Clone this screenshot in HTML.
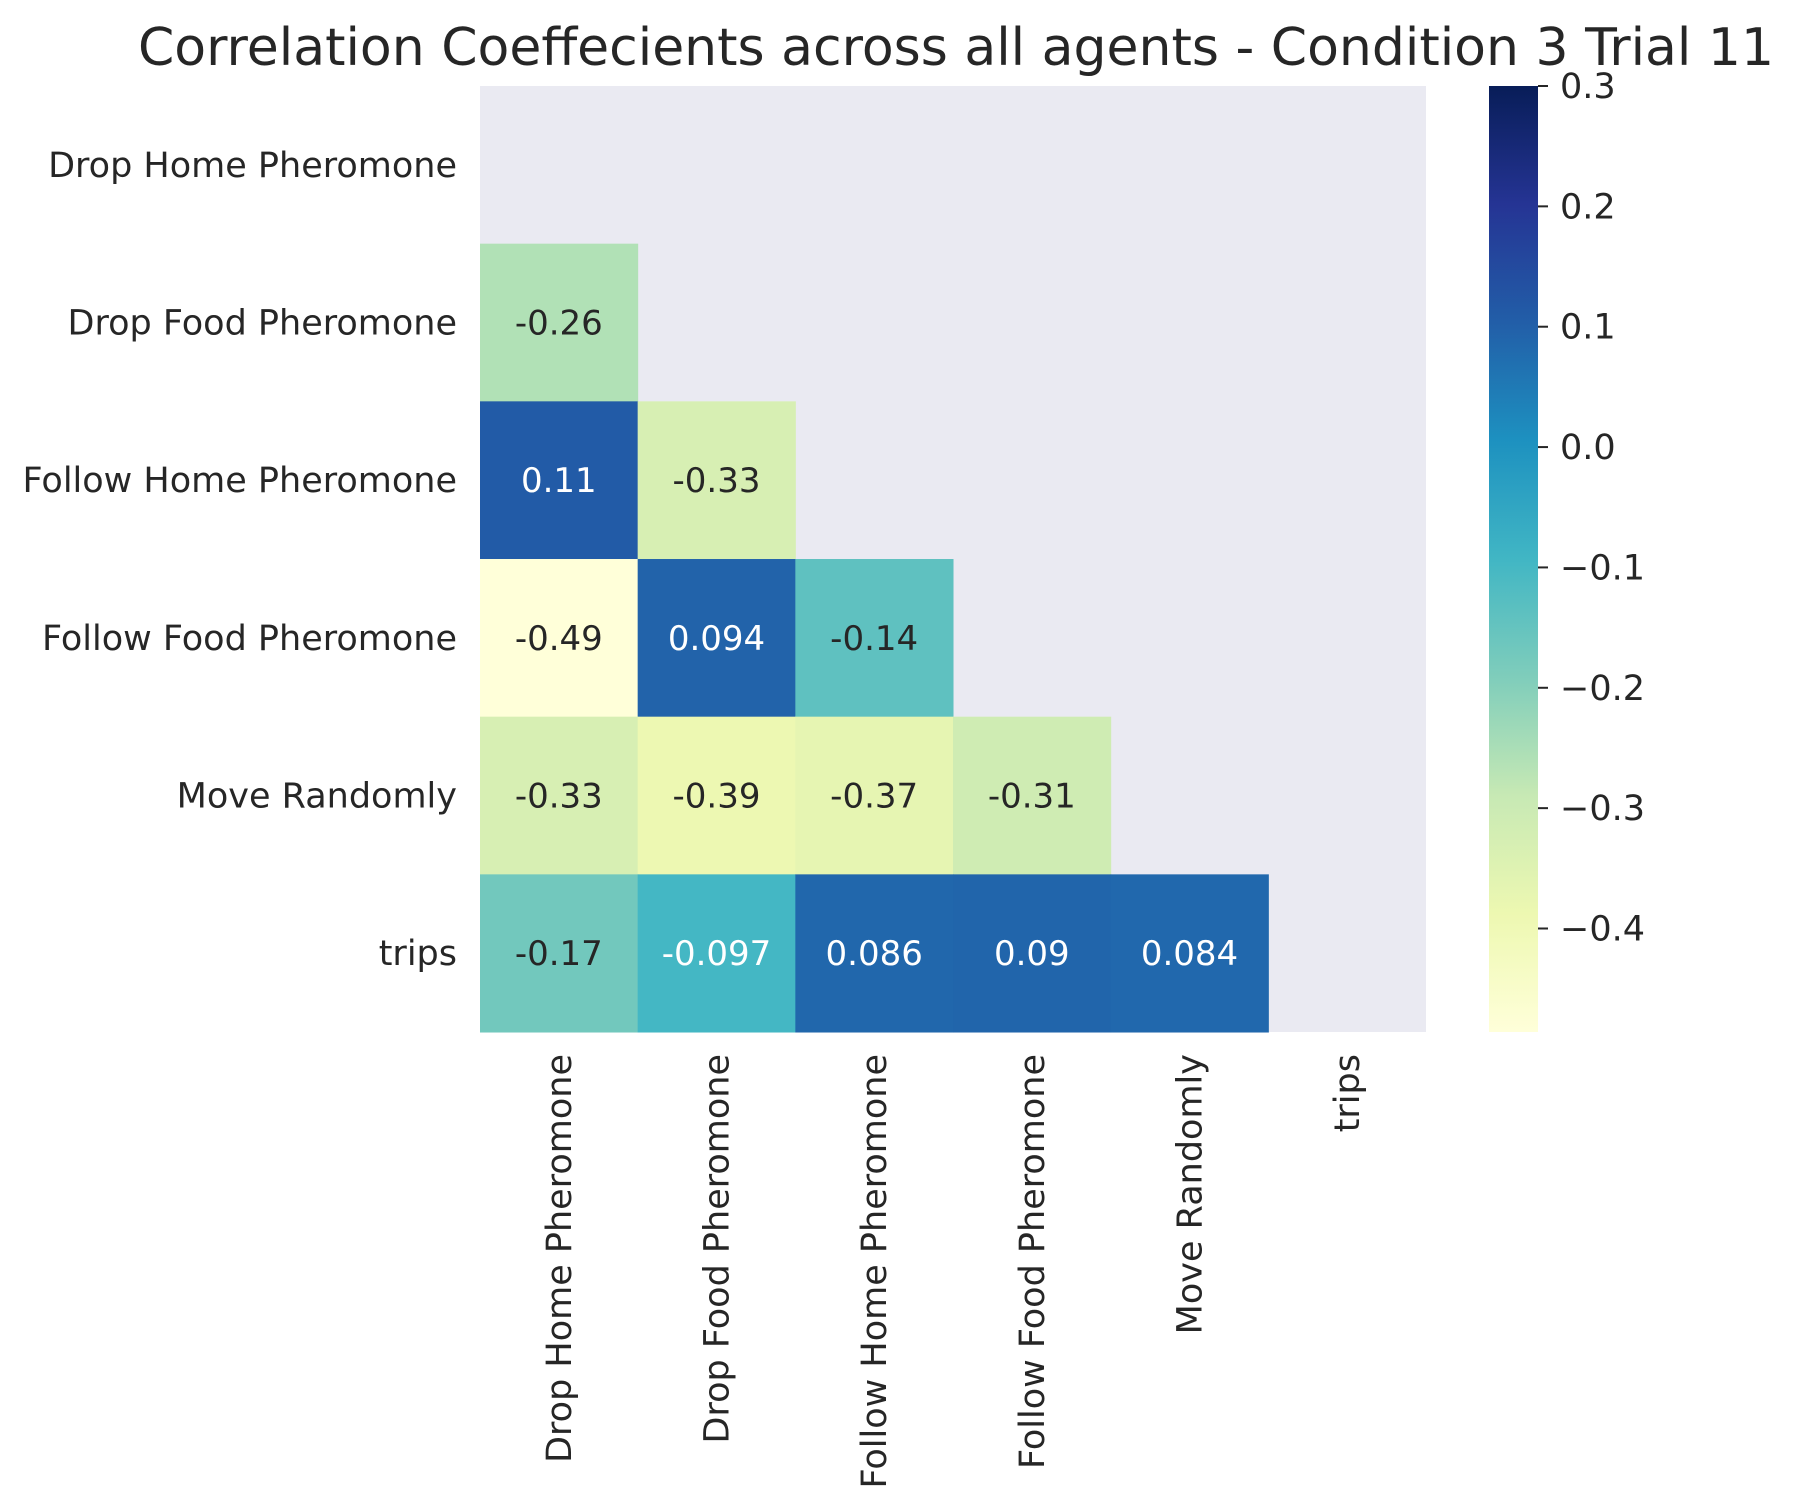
<!DOCTYPE html>
<html><head><meta charset="utf-8"><style>
html,body{margin:0;padding:0;background:#fff;}
svg{display:block;font-family:"DejaVu Sans","Liberation Sans",sans-serif;}
</style></head><body>
<svg id="chart" width="1795" height="1508" viewBox="0 0 1795 1508" xmlns="http://www.w3.org/2000/svg">
<defs>
<linearGradient id="cbgrad" x1="0" y1="1" x2="0" y2="0">
<stop offset="0" stop-color="#ffffd9"/><stop offset="0.125" stop-color="#edf8b1"/><stop offset="0.25" stop-color="#c7e9b4"/><stop offset="0.375" stop-color="#7fcdbb"/><stop offset="0.5" stop-color="#41b6c4"/><stop offset="0.625" stop-color="#1d91c0"/><stop offset="0.75" stop-color="#225ea8"/><stop offset="0.875" stop-color="#253494"/><stop offset="1" stop-color="#081d58"/>
</linearGradient>
</defs>
<text x="956" y="65" font-size="52" text-anchor="middle" fill="#262626">Correlation Coeffecients across all agents - Condition 3 Trial 11</text>
<rect x="480" y="86" width="946" height="946" fill="#eaeaf2"/>
<g id="cells"></g>
<g id="labels"></g>
<rect x="1489" y="86" width="49" height="946" fill="url(#cbgrad)"/>
<g id="cbticks"></g>
</svg>
<script>
const labels = ["Drop Home Pheromone","Drop Food Pheromone","Follow Home Pheromone","Follow Food Pheromone","Move Randomly","trips"];
const row1 = [-0.26];
const row2 = [0.11, -0.33];
const row3 = [-0.49, 0.094, -0.14];
const row4 = [-0.33, -0.39, -0.37, -0.31];
const row5 = [-0.17, -0.097, 0.086, 0.09, 0.084];
const cbTicks = [0.3, 0.2, 0.1, 0.0, -0.1, -0.2, -0.3, -0.4];
const cbTickLabels = ["0.3","0.2","0.1","0.0","\u22120.1","\u22120.2","\u22120.3","\u22120.4"];
const vmin = -0.486, vmax = 0.3;

const NS = "http://www.w3.org/2000/svg";
const L = 480, T = 86, CW = 157.67, CH = 157.67, CBT = 86, CBB = 1032;
const stops = ["#ffffd9","#edf8b1","#c7e9b4","#7fcdbb","#41b6c4","#1d91c0","#225ea8","#253494","#081d58"].map(h=>[1,3,5].map(i=>parseInt(h.substr(i,2),16)));
function color(v){
  let t = Math.max(0, Math.min(1, (v - vmin) / (vmax - vmin))) * 8;
  let i = Math.min(7, Math.floor(t)), f = t - i;
  return stops[i].map((c,k)=>Math.round(c + (stops[i+1][k]-c)*f));
}
function lum(c){
  const l = c.map(x=>{x/=255;return x<=0.03928?x/12.92:Math.pow((x+0.055)/1.055,2.4);});
  return 0.2126*l[0]+0.7152*l[1]+0.0722*l[2];
}
function xPos(j){return L + j*CW;}
function yPos(i){return T + i*CH;}
function cbY(v){return CBT + (vmax - v)/(vmax - vmin)*(CBB - CBT);}
function mk(tag, attrs, parent){
  const e = document.createElementNS(NS, tag);
  for (const k in attrs) e.setAttribute(k, attrs[k]);
  parent.appendChild(e); return e;
}
const cells = document.getElementById('cells');
const rows = [row1, row2, row3, row4, row5];
rows.forEach((r, ri) => {
  const i = ri + 1;
  r.forEach((v, j) => {
    const c = color(v);
    const rect = mk('rect', {x: xPos(j), y: yPos(i), width: CW + 0.5, height: CH + 0.5, fill: `rgb(${c.join(',')})`}, cells);
    
    
    const t = mk('text', {x: xPos(j) + CW/2, y: yPos(i) + CH/2 + 12, 'font-size': 34, 'text-anchor': 'middle', fill: lum(c) > 0.408 ? '#262626' : '#ffffff'}, cells);
    t.textContent = String(v);
    
    
  });
});
const lab = document.getElementById('labels');
labels.forEach((s, i) => {
  const t = mk('text', {x: 457, y: yPos(i) + CH/2 + 12, 'font-size': 35, 'text-anchor': 'end', fill: '#262626'}, lab);
  t.textContent = s;
  
  
  const cx = xPos(i) + CW/2 + 12;
  const u = mk('text', {x: cx, y: 1054, 'font-size': 35, 'text-anchor': 'end', fill: '#262626', transform: `rotate(-90 ${cx} 1054)`}, lab);
  u.textContent = s;
  
  
});
const cbt = document.getElementById('cbticks');
cbTicks.forEach((v, k) => {
  const y = cbY(v);
  const ln = mk('line', {x1: 1538, x2: 1548, y1: y, y2: y, stroke: '#262626', 'stroke-width': 2}, cbt);
  
  
  const t = mk('text', {x: 1560, y: y + 12, 'font-size': 35, fill: '#262626'}, cbt);
  t.textContent = cbTickLabels[k];
  
  
});
</script>
</body></html>
